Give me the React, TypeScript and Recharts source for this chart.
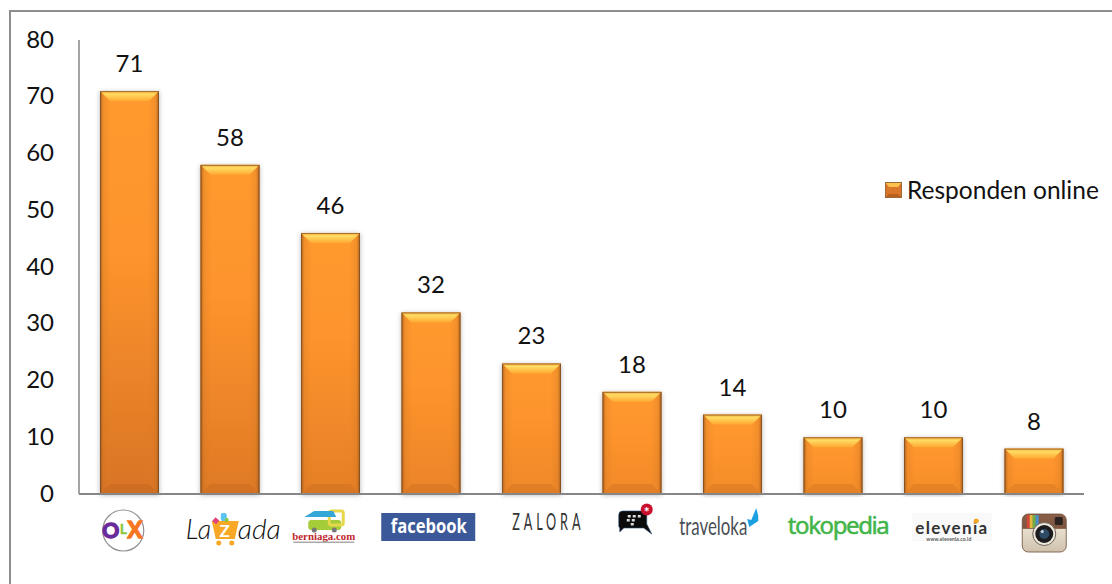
import { BarChart, Bar, XAxis, YAxis, Legend, LabelList } from "recharts";

const FONT = "Lato, Carlito, sans-serif";
const AXIS_COLOR = "#868686";

// Online respondents per marketplace
const BRANDS = ["OLX", "Lazada", "berniaga", "facebook", "ZALORA", "BBM", "traveloka", "tokopedia", "elevenia", "Instagram"];
const RESPONDENTS = [71, 58, 46, 32, 23, 18, 14, 10, 10, 8];
const Y_TICKS = [0, 10, 20, 30, 40, 50, 60, 70, 80];
const SERIES_NAME = "Responden online";

const rows = BRANDS.map((brand, i) => ({ brand, respondents: RESPONDENTS[i] }));

// Bars darken towards the foot, more so the taller they are
function footColor(height: number) {
  const t = Math.min(height / 402, 1);
  const mix = (a: number, b: number) => Math.round(a + (b - a) * t);
  return `rgb(${mix(250, 217)},${mix(146, 116)},${mix(44, 37)})`;
}

function BevelBar(props: any) {
  const { x, y, width: w, height: h, index } = props;
  const inset = Math.min(10, h / 2);
  const id = `barBody${index}`;
  const r = x + w;
  const b = y + h;
  return (
    <g>
      <defs>
        <linearGradient id={id} x1="0" y1="0" x2="0" y2="1">
          <stop offset="0%" stopColor="#ff9a2e" />
          <stop offset="40%" stopColor="#fd942d" />
          <stop offset="100%" stopColor={footColor(h)} />
        </linearGradient>
      </defs>
      <rect x={x} y={y} width={w} height={h} fill={`url(#${id})`} filter="url(#barShadow)" />
      {/* top bevel */}
      <polygon points={`${x},${y} ${r},${y} ${r - inset},${y + inset} ${x + inset},${y + inset}`} fill="url(#topBevel)" />
      {/* side bevels */}
      <polygon points={`${x},${y} ${x + inset},${y + inset} ${x + inset},${b - inset} ${x},${b}`} fill="url(#leftBevel)" />
      <polygon points={`${r},${y} ${r - inset},${y + inset} ${r - inset},${b - inset} ${r},${b}`} fill="url(#rightBevel)" />
      {/* bottom bevel */}
      <polygon points={`${x},${b} ${r},${b} ${r - inset},${b - inset} ${x + inset},${b - inset}`} fill="#a8581a" fillOpacity={0.22} />
      <rect x={x + 0.5} y={y + 0.5} width={w - 1} height={h - 1} fill="none" stroke="#7a4a20" strokeOpacity={0.65} />
    </g>
  );
}

// Brand marks under the axis, local x is relative to the tick centre
function BrandMark({ brand }: { brand: string }) {
  switch (brand) {
    case "OLX":
      return (
        <g fontFamily={FONT} fontWeight={700}>
          <circle cx={-6} cy={530.5} r={20.5} fill="#fff" stroke="#8f8f8f" strokeWidth={1.2} />
          <text x={-18.5} y={538} fontSize={21} fill="#6a2a9a" stroke="#6a2a9a" strokeWidth={1.4} textAnchor="middle">O</text>
          <text x={-6} y={534} fontSize={13} fill="#8cc63f" stroke="#8cc63f" strokeWidth={0.6} textAnchor="middle">L</text>
          <text x={5.5} y={538} fontSize={22} fill="#f5761f" stroke="#f5761f" strokeWidth={1.4} textAnchor="middle">X</text>
        </g>
      );
    case "Lazada":
      return (
        <g fontFamily={FONT}>
          <text x={-44} y={539} fontSize={27} fontWeight={300} fontStyle="italic" fill="#111">La</text>
          <text x={8} y={539} fontSize={27} fontWeight={300} fontStyle="italic" fill="#111" textLength={43} lengthAdjust="spacingAndGlyphs">ada</text>
          <path d="M-18,521 L9,521 L5,539 L-14,539 Z" fill="#f9a825" />
          <text x={-5} y={537} fontSize={17} fontWeight={700} fill="#fff" textAnchor="middle">Z</text>
          <circle cx={-11} cy={543} r={2.5} fill="#f9a825" />
          <circle cx={2} cy={543} r={2.5} fill="#f9a825" />
          <rect x={-9} y={513} width={6} height={8} rx={2} fill="#5bc4f1" />
          <rect x={-16} y={518} width={5} height={5} fill="#e0417f" transform="rotate(40 -14 520)" />
          <circle cx={-3} cy={520} r={2} fill="#8cc63f" />
        </g>
      );
    case "berniaga":
      return (
        <g fontFamily="'Liberation Serif', serif" fontWeight={700}>
          <rect x={-22} y={520} width={33} height={10} rx={3} fill="#a4cd39" />
          <rect x={-1} y={511} width={14} height={14} rx={2} fill="none" stroke="#e6d84a" strokeWidth={3} />
          <polygon points="-26,517 -16,511 3,511 6,517" fill="#35a7d6" />
          <circle cx={-16} cy={530} r={2.5} fill="#777" />
          <circle cx={4} cy={530} r={2.5} fill="#777" />
          <text x={-38} y={540} fontSize={10.5} fill="#c0272d" textLength={63} lengthAdjust="spacingAndGlyphs">berniaga.com</text>
          <rect x={-37} y={541.5} width={61} height={1.5} fill="#aaa" />
        </g>
      );
    case "facebook":
      return (
        <g fontFamily="'Open Sans', sans-serif">
          <rect x={-49.5} y={513} width={94} height={28} fill="#3b5998" />
          <text x={-40} y={533} fontSize={20} fontWeight={700} fill="#fff" textLength={76} lengthAdjust="spacingAndGlyphs">facebook</text>
        </g>
      );
    case "ZALORA":
      return (
        <g transform="translate(-19,530) scale(0.55,1)">
          <text x={0} y={0} fontFamily={FONT} fontSize={23} fontWeight={400} fill="#333" textLength={124} lengthAdjust="spacing">ZALORA</text>
        </g>
      );
    case "BBM":
      return (
        <g fontFamily={FONT}>
          <path d="M-5,511 h16 a4,4 0 0 1 4,4 v9 l5,10 l-8,-6 h-20 l-4,4 v-4 a3,3 0 0 1 -1,-2 v-11 a4,4 0 0 1 4,-4 z" fill="#0b0b0b" stroke="#2c4f7c" strokeWidth={0.6} />
          <g fill="#ddd">
            <rect x={-4} y={515} width={3} height={2.5} />
            <rect x={1} y={515} width={3} height={2.5} />
            <rect x={6} y={515} width={3} height={2.5} />
            <rect x={-5} y={519} width={3} height={2.5} />
            <rect x={0} y={519} width={3} height={2.5} />
            <rect x={-1} y={523} width={3} height={2.5} />
          </g>
          <circle cx={15} cy={509.5} r={6} fill="#c8102e" />
          <text x={15} y={517} fontSize={14} fontWeight={700} fill="#fff" textAnchor="middle">*</text>
        </g>
      );
    case "traveloka":
      return (
        <g fontFamily={FONT}>
          <text x={-53} y={535} fontSize={25} fill="#4a4f54" textLength={68} lengthAdjust="spacingAndGlyphs">traveloka</text>
          <path d="M15,519 L19,520 L24,508 L26,516 L26,521 L17,527 Z" fill="#1ba0e2" />
        </g>
      );
    case "tokopedia":
      return (
        <text x={-45} y={534} fontFamily="'Noto Sans', sans-serif" fontSize={24} fill="#42b549" stroke="#42b549" strokeWidth={0.5} textLength={102} lengthAdjust="spacing">tokopedia</text>
      );
    case "elevenia":
      return (
        <g fontFamily={FONT}>
          <rect x={-21} y={513} width={80} height={28} fill="#f9f9f9" />
          <text x={-18} y={534} fontSize={17} fontWeight={700} fill="#333" textLength={72} lengthAdjust="spacing">elevenia</text>
          <circle cx={43} cy={521} r={2.5} fill="#f5a623" />
          <text x={-7} y={541} fontSize={5} fontWeight={700} fill="#555" textLength={45}>www.elevenia.co.id</text>
        </g>
      );
    case "Instagram":
      return (
        <g>
          <defs>
            <linearGradient id="instaBody" x1="0" y1="0" x2="0" y2="1">
              <stop offset="0%" stopColor="#8a5f48" />
              <stop offset="38%" stopColor="#7d5540" />
              <stop offset="39%" stopColor="#e8dfcf" />
              <stop offset="100%" stopColor="#cfc2ac" />
            </linearGradient>
          </defs>
          <rect x={-11.5} y={514} width={44} height={38} rx={6} fill="url(#instaBody)" stroke="#6d4c3a" strokeWidth={0.8} />
          <rect x={-7} y={515} width={3} height={13} fill="#d8453a" />
          <rect x={-4} y={515} width={3} height={13} fill="#e5b93b" />
          <rect x={-1} y={515} width={3} height={13} fill="#6fae4d" />
          <rect x={2} y={515} width={3} height={13} fill="#4b8fc9" />
          <rect x={21} y={517} width={8} height={8} rx={1.5} fill="#2a2320" />
          <circle cx={10.5} cy={534} r={11.5} fill="#efe9dd" stroke="#6b6259" strokeWidth={1} />
          <circle cx={10.5} cy={534} r={9} fill="#1c1c1f" />
          <circle cx={10.5} cy={534} r={5} fill="#2e4b66" />
          <circle cx={8.5} cy={531.5} r={1.6} fill="#c9d6e2" />
        </g>
      );
    default:
      return null;
  }
}

function BrandTick(props: any) {
  const { x, payload } = props;
  return (
    <g transform={`translate(${x},0)`}>
      <BrandMark brand={payload.value} />
    </g>
  );
}

function LegendKey({ payload }: any) {
  const name = payload?.[0]?.value;
  return (
    <div style={{ display: "flex", alignItems: "center", fontFamily: FONT, fontSize: 24.5, color: "#111", whiteSpace: "nowrap" }}>
      <svg width={17} height={16} style={{ marginRight: 5 }}>
        <rect width={17} height={16} fill="#d9762a" />
        <polygon points="0,0 17,0 13,5 4,5" fill="#fdc24d" />
        <polygon points="0,16 17,16 13,12 4,12" fill="#b8611f" />
        <rect x={0.5} y={0.5} width={16} height={15} fill="none" stroke="#9a6a3a" />
      </svg>
      {name}
    </div>
  );
}

export default function App() {
  return (
    <div style={{ position: "absolute", left: 0, top: 0, width: 1112, height: 584, overflow: "hidden", background: "#fff" }}>
      {/* outer frame runs off the right and bottom edges */}
      <div style={{ position: "absolute", left: 9, top: 10, width: 1200, height: 700, borderLeft: "2px solid #8e8e8e", borderTop: "2px solid #8e8e8e" }} />
      <div style={{ position: "absolute", left: 0, top: 0 }}>
        <BarChart width={1112} height={584} data={rows} margin={{ top: 40, right: 28, bottom: 0, left: 0 }} barSize={59}>
          <defs>
            <linearGradient id="topBevel" x1="0" y1="0" x2="0" y2="1">
              <stop offset="0%" stopColor="#f0a83c" />
              <stop offset="30%" stopColor="#ffdc62" />
              <stop offset="100%" stopColor="#ffa832" />
            </linearGradient>
            <linearGradient id="leftBevel" x1="0" y1="0" x2="1" y2="0">
              <stop offset="0%" stopColor="#8a5220" stopOpacity={0.85} />
              <stop offset="35%" stopColor="#c8701f" stopOpacity={0.25} />
              <stop offset="100%" stopColor="#e07f22" stopOpacity={0.08} />
            </linearGradient>
            <linearGradient id="rightBevel" x1="1" y1="0" x2="0" y2="0">
              <stop offset="0%" stopColor="#8a5220" stopOpacity={0.85} />
              <stop offset="35%" stopColor="#c8701f" stopOpacity={0.25} />
              <stop offset="100%" stopColor="#e07f22" stopOpacity={0.08} />
            </linearGradient>
            <filter id="barShadow" x="-20%" y="-5%" width="140%" height="110%">
              <feDropShadow dx={0} dy={1} stdDeviation={2.5} floodColor="#000" floodOpacity={0.3} />
            </filter>
          </defs>
          <XAxis
            dataKey="brand"
            interval={0}
            height={90}
            tick={BrandTick}
            tickLine={false}
            axisLine={{ stroke: AXIS_COLOR, strokeWidth: 2 }}
          />
          <YAxis
            width={79}
            domain={[0, 80]}
            ticks={Y_TICKS}
            interval={0}
            tickLine={false}
            tickMargin={19}
            dy={-1}
            axisLine={{ stroke: AXIS_COLOR, strokeWidth: 1.5 }}
            tick={{ fill: "#111", fontSize: 24, fontFamily: FONT }}
          />
          <Legend
            content={LegendKey}
            layout="horizontal"
            verticalAlign="middle"
            align="center"
            wrapperStyle={{ position: "absolute", left: 885, top: 175, width: 225, height: 30, bottom: "auto" }}
          />
          <Bar dataKey="respondents" name={SERIES_NAME} fill="#e07a28" shape={BevelBar} isAnimationActive={false}>
            <LabelList
              dataKey="respondents"
              position="top"
              offset={19}
              style={{ fill: "#111", fontSize: 24, fontFamily: FONT }}
            />
          </Bar>
        </BarChart>
      </div>
    </div>
  );
}
